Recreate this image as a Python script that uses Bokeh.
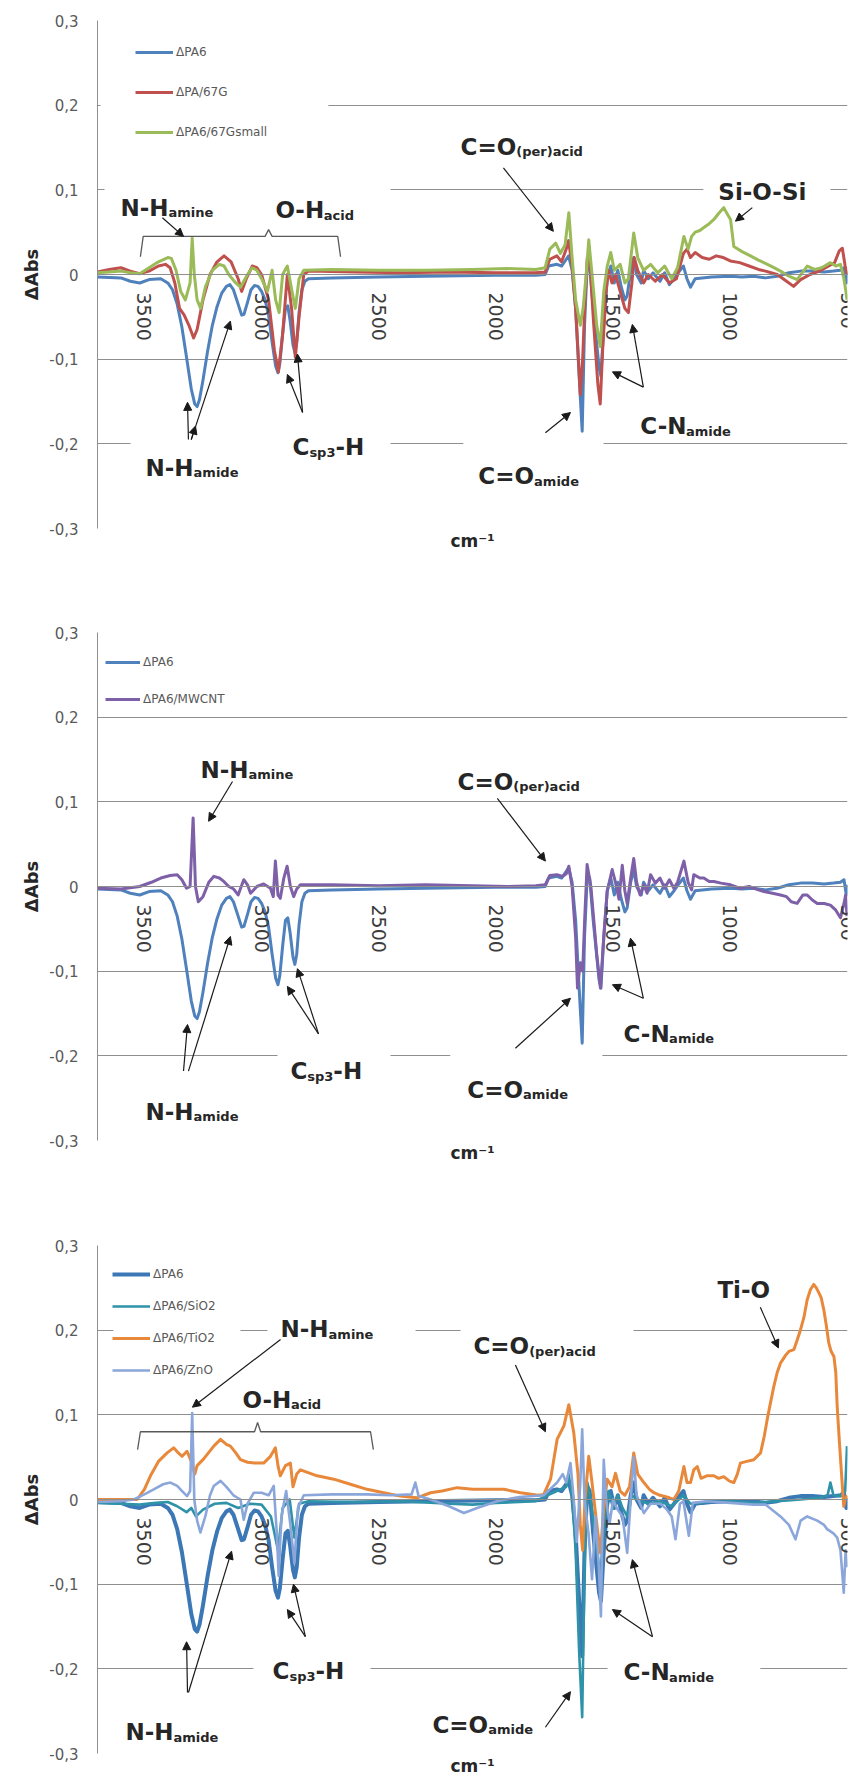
from math import pi

from bokeh.embed import file_html
from bokeh.layouts import column
from bokeh.models import (Arrow, BoxAnnotation, CustomJSTickFormatter, FixedTicker, Label,
                          Legend, LegendItem, LinearAxis, NormalHead, Range1d)
from bokeh.plotting import figure
from bokeh.resources import INLINE

# ---------------------------------------------------------------- data
X_TICKS = [3500, 3000, 2500, 2000, 1500, 1000, 500]
Y_TICKS = [-0.3, -0.2, -0.1, 0, 0.1, 0.2, 0.3]

# (wavenumber cm-1, delta absorbance)
PA6 = [
    (3700, -0.003), (3600, -0.004), (3560, -0.008), (3520, -0.010), (3480, -0.006),
    (3430, -0.005), (3400, -0.010), (3380, -0.018), (3360, -0.035), (3340, -0.062),
    (3320, -0.098), (3300, -0.135), (3285, -0.153), (3275, -0.156), (3265, -0.148),
    (3250, -0.125), (3230, -0.090), (3210, -0.060), (3190, -0.038), (3170, -0.022),
    (3150, -0.014), (3135, -0.012), (3120, -0.018), (3100, -0.035), (3085, -0.048),
    (3075, -0.047), (3060, -0.033), (3045, -0.018), (3030, -0.013), (3015, -0.014),
    (3000, -0.020), (2985, -0.030), (2970, -0.048), (2955, -0.080), (2940, -0.108),
    (2930, -0.116), (2922, -0.105), (2910, -0.070), (2898, -0.040), (2888, -0.037),
    (2878, -0.055), (2866, -0.083), (2858, -0.092), (2850, -0.080), (2840, -0.045),
    (2828, -0.018), (2815, -0.008), (2800, -0.005), (2700, -0.004), (2500, -0.003),
    (2300, -0.002), (2000, -0.001), (1830, -0.001), (1790, 0.000), (1775, 0.010),
    (1740, 0.012), (1720, 0.010), (1700, 0.018), (1690, 0.022), (1675, 0.005),
    (1660, -0.040), (1645, -0.120), (1632, -0.185), (1622, -0.060), (1610, 0.015),
    (1600, 0.010), (1585, -0.040), (1560, -0.110), (1552, -0.120), (1540, -0.060),
    (1525, -0.005), (1510, 0.010), (1495, -0.010), (1480, 0.005), (1465, -0.015),
    (1450, -0.030), (1440, -0.025), (1425, 0.005), (1412, 0.020), (1400, 0.000),
    (1380, -0.010), (1370, 0.005), (1350, -0.005), (1330, 0.002), (1300, -0.008),
    (1280, 0.002), (1260, -0.012), (1240, -0.005), (1220, 0.003), (1200, 0.010),
    (1185, -0.005), (1170, -0.015), (1150, -0.005), (1120, -0.004), (1080, -0.003),
    (1000, -0.002), (950, -0.003), (900, -0.002), (850, -0.004), (800, -0.002),
    (750, 0.002), (700, 0.004), (650, 0.004), (600, 0.003), (560, 0.004),
    (530, 0.005), (515, 0.008), (505, -0.010), (500, 0.002),
]

PA_67G = [
    (3700, 0.003), (3650, 0.006), (3600, 0.008), (3560, 0.004), (3520, 0.001),
    (3480, 0.004), (3440, 0.010), (3410, 0.012), (3390, 0.008), (3370, -0.010),
    (3350, -0.040), (3330, -0.048), (3310, -0.060), (3290, -0.075), (3275, -0.065),
    (3250, -0.030), (3220, 0.000), (3190, 0.015), (3160, 0.022), (3130, 0.015),
    (3100, -0.005), (3085, -0.020), (3065, -0.005), (3040, 0.010), (3020, 0.008),
    (3000, 0.000), (2970, -0.030), (2945, -0.090), (2928, -0.115), (2910, -0.070),
    (2890, 0.000), (2872, -0.040), (2856, -0.098), (2840, -0.050), (2820, 0.000),
    (2800, 0.004), (2600, 0.003), (2400, 0.002), (2200, 0.003), (2000, 0.002),
    (1830, 0.002), (1790, 0.003), (1770, 0.018), (1740, 0.022), (1720, 0.015),
    (1700, 0.030), (1690, 0.040), (1675, 0.010), (1660, -0.040), (1648, -0.100),
    (1640, -0.142), (1630, -0.100), (1620, -0.030), (1610, 0.020), (1600, 0.020),
    (1585, -0.050), (1565, -0.130), (1555, -0.153), (1545, -0.090), (1530, -0.020),
    (1520, 0.005), (1505, -0.010), (1490, 0.000), (1470, -0.020), (1450, -0.040),
    (1435, -0.045), (1420, -0.010), (1410, 0.020), (1395, 0.005), (1370, -0.010),
    (1350, 0.000), (1320, -0.008), (1290, 0.000), (1260, -0.010), (1230, -0.005),
    (1200, 0.025), (1185, 0.030), (1170, 0.020), (1150, 0.026), (1120, 0.020),
    (1090, 0.018), (1060, 0.022), (1030, 0.020), (1000, 0.016), (960, 0.014),
    (920, 0.010), (880, 0.006), (850, 0.004), (800, 0.000), (760, -0.008),
    (730, -0.014), (700, -0.006), (660, 0.000), (620, 0.004), (580, 0.010),
    (555, 0.014), (535, 0.028), (522, 0.031), (510, 0.010), (502, 0.000),
]

PA6_67G_SMALL = [
    (3700, 0.002), (3650, 0.003), (3600, 0.004), (3560, 0.002), (3520, 0.001),
    (3480, 0.008), (3440, 0.015), (3400, 0.020), (3385, 0.019), (3365, 0.005),
    (3345, -0.020), (3325, -0.030), (3305, -0.010), (3296, 0.043), (3287, 0.000),
    (3275, -0.030), (3260, -0.040), (3240, -0.015), (3210, 0.005), (3180, 0.012),
    (3160, 0.010), (3140, 0.000), (3110, -0.010), (3090, -0.015), (3060, 0.000),
    (3040, 0.008), (3020, 0.005), (3000, -0.005), (2975, -0.020), (2955, 0.005),
    (2940, -0.030), (2925, -0.045), (2910, 0.000), (2890, 0.010), (2870, -0.020),
    (2856, -0.040), (2840, -0.005), (2820, 0.005), (2700, 0.006), (2500, 0.005),
    (2300, 0.005), (2100, 0.006), (1950, 0.007), (1830, 0.006), (1790, 0.008),
    (1770, 0.030), (1745, 0.037), (1725, 0.025), (1705, 0.035), (1689, 0.073),
    (1675, 0.020), (1660, -0.030), (1640, -0.060), (1628, -0.040), (1615, 0.000),
    (1604, 0.041), (1590, 0.000), (1570, -0.060), (1555, -0.085), (1540, -0.020),
    (1525, 0.010), (1510, 0.026), (1495, 0.005), (1470, 0.012), (1450, -0.010),
    (1435, -0.005), (1412, 0.049), (1395, 0.020), (1370, 0.005), (1340, 0.012),
    (1310, 0.002), (1280, 0.010), (1250, -0.005), (1225, 0.008), (1198, 0.045),
    (1180, 0.030), (1165, 0.045), (1150, 0.050), (1130, 0.052), (1110, 0.056),
    (1090, 0.060), (1070, 0.065), (1050, 0.072), (1028, 0.079), (1010, 0.070),
    (999, 0.065), (985, 0.033), (950, 0.027), (914, 0.022), (880, 0.017),
    (857, 0.014), (820, 0.009), (786, 0.004), (750, -0.002), (715, -0.006),
    (690, 0.003), (672, 0.010), (640, 0.006), (610, 0.008), (573, 0.014),
    (550, 0.010), (530, 0.012), (516, -0.004), (508, -0.018), (502, -0.030),
]

PA6_MWCNT = [
    (3700, -0.002), (3600, -0.003), (3520, 0.000), (3470, 0.005), (3430, 0.010),
    (3390, 0.013), (3360, 0.014), (3340, 0.008), (3320, -0.002), (3305, 0.000),
    (3292, 0.081), (3282, 0.000), (3270, -0.018), (3250, -0.012), (3225, 0.005),
    (3204, 0.012), (3180, 0.010), (3161, 0.006), (3140, 0.000), (3119, -0.003),
    (3100, -0.010), (3076, 0.008), (3060, 0.002), (3047, -0.008), (3020, 0.000),
    (2991, 0.003), (2962, -0.002), (2950, -0.012), (2941, 0.030), (2930, -0.010),
    (2920, -0.014), (2905, 0.010), (2891, 0.024), (2877, 0.000), (2863, -0.012),
    (2850, -0.003), (2834, 0.002), (2700, 0.002), (2500, 0.001), (2300, 0.002),
    (2100, 0.001), (1950, 0.000), (1830, 0.001), (1790, 0.002), (1770, 0.013),
    (1740, 0.014), (1715, 0.012), (1700, 0.015), (1689, 0.024), (1675, 0.000),
    (1660, -0.060), (1652, -0.120), (1640, -0.090), (1630, -0.100), (1620, -0.030),
    (1611, 0.026), (1595, 0.000), (1570, -0.080), (1554, -0.120), (1540, -0.060),
    (1525, -0.005), (1504, 0.020), (1490, 0.005), (1475, -0.015), (1461, 0.025),
    (1450, -0.005), (1440, -0.020), (1425, 0.010), (1412, 0.033), (1400, 0.005),
    (1385, -0.010), (1369, 0.002), (1355, -0.008), (1340, 0.014), (1320, 0.004),
    (1300, 0.010), (1280, -0.002), (1260, 0.008), (1241, -0.002), (1225, 0.005),
    (1198, 0.030), (1180, 0.005), (1165, -0.004), (1156, 0.014), (1130, 0.010),
    (1113, 0.010), (1090, 0.006), (1070, 0.006), (1040, 0.004), (999, 0.002),
    (960, -0.002), (920, 0.000), (880, -0.004), (857, -0.006), (820, -0.008),
    (786, -0.010), (760, -0.012), (740, -0.018), (715, -0.020), (690, -0.010),
    (672, -0.010), (650, -0.016), (629, -0.020), (600, -0.020), (573, -0.022),
    (550, -0.028), (530, -0.037), (515, -0.020), (508, -0.010), (502, -0.035),
]

PA6_SIO2 = [
    (3700, -0.004), (3600, -0.005), (3520, -0.006), (3450, -0.004), (3400, -0.003),
    (3360, -0.008), (3320, -0.015), (3300, -0.010), (3280, -0.020), (3250, -0.012),
    (3200, -0.005), (3150, -0.004), (3100, -0.010), (3050, -0.005), (3000, -0.006),
    (2960, -0.020), (2930, -0.060), (2910, -0.010), (2880, 0.000), (2860, -0.045),
    (2840, -0.005), (2800, -0.002), (2600, -0.003), (2400, -0.002), (2200, -0.005),
    (2100, -0.006), (2000, -0.004), (1900, -0.003), (1830, -0.002), (1780, 0.005),
    (1740, 0.010), (1700, 0.015), (1690, 0.030), (1675, 0.005), (1660, -0.060),
    (1645, -0.180), (1632, -0.257), (1622, -0.080), (1610, 0.020), (1595, 0.000),
    (1570, -0.060), (1554, -0.090), (1540, -0.030), (1520, 0.010), (1500, -0.010),
    (1480, 0.005), (1460, -0.010), (1440, -0.020), (1420, 0.005), (1400, 0.000),
    (1350, -0.005), (1300, -0.002), (1250, -0.008), (1200, 0.005), (1170, -0.005),
    (1100, -0.003), (1000, -0.002), (900, -0.004), (800, -0.002), (700, 0.000),
    (620, 0.002), (585, 0.005), (573, 0.020), (560, 0.005), (530, 0.004),
    (510, 0.010), (502, 0.063),
]

PA6_TIO2 = [
    (3700, 0.000), (3600, 0.000), (3531, 0.000), (3500, 0.012), (3474, 0.028),
    (3440, 0.045), (3403, 0.055), (3375, 0.061), (3355, 0.055), (3339, 0.051),
    (3318, 0.057), (3300, 0.045), (3285, 0.030), (3275, 0.040), (3247, 0.048),
    (3204, 0.063), (3175, 0.071), (3150, 0.065), (3133, 0.063), (3110, 0.055),
    (3090, 0.047), (3060, 0.044), (3030, 0.043), (2991, 0.043), (2962, 0.051),
    (2941, 0.061), (2930, 0.040), (2920, 0.028), (2898, 0.040), (2877, 0.043),
    (2866, 0.015), (2850, 0.030), (2834, 0.035), (2763, 0.028), (2692, 0.024),
    (2621, 0.018), (2550, 0.012), (2479, 0.008), (2408, 0.004), (2337, 0.002),
    (2279, 0.008), (2230, 0.010), (2165, 0.014), (2100, 0.012), (2066, 0.012),
    (1966, 0.012), (1895, 0.008), (1820, 0.005), (1796, 0.006), (1767, 0.024),
    (1739, 0.071), (1710, 0.087), (1689, 0.112), (1668, 0.079), (1650, 0.030),
    (1640, -0.030), (1630, -0.060), (1620, 0.000), (1604, 0.051), (1590, 0.020),
    (1582, 0.000), (1565, -0.040), (1554, -0.063), (1540, -0.010), (1525, 0.024),
    (1505, 0.015), (1490, 0.031), (1470, 0.010), (1450, 0.005), (1430, 0.015),
    (1412, 0.055), (1395, 0.030), (1369, 0.020), (1345, 0.012), (1326, 0.008),
    (1300, 0.005), (1284, 0.004), (1260, 0.002), (1241, 0.000), (1220, 0.010),
    (1198, 0.039), (1185, 0.020), (1170, 0.020), (1156, 0.035), (1141, 0.039),
    (1125, 0.025), (1100, 0.028), (1070, 0.028), (1050, 0.025), (1028, 0.027),
    (1005, 0.022), (985, 0.020), (970, 0.030), (957, 0.043), (930, 0.045),
    (900, 0.047), (871, 0.055), (855, 0.075), (843, 0.094), (828, 0.115),
    (814, 0.134), (800, 0.150), (786, 0.161), (765, 0.170), (750, 0.175),
    (729, 0.177), (715, 0.188), (701, 0.200), (686, 0.215), (672, 0.236),
    (658, 0.248), (644, 0.254), (633, 0.250), (622, 0.244), (612, 0.238),
    (601, 0.224), (590, 0.205), (580, 0.185), (570, 0.175), (558, 0.169),
    (550, 0.150), (544, 0.110), (535, 0.070), (523, 0.020), (516, -0.008),
    (510, 0.000), (502, 0.005),
]

PA6_ZNO = [
    (3700, -0.003), (3600, -0.002), (3545, 0.000), (3500, 0.006), (3460, 0.012),
    (3420, 0.018), (3389, 0.020), (3360, 0.016), (3339, 0.010), (3318, 0.004),
    (3305, 0.010), (3296, 0.102), (3287, 0.000), (3275, -0.025), (3261, -0.039),
    (3240, -0.020), (3220, 0.005), (3204, 0.016), (3175, 0.022), (3150, 0.015),
    (3120, 0.005), (3090, 0.000), (3076, -0.024), (3060, -0.005), (3033, 0.008),
    (3000, 0.008), (2970, 0.005), (2948, 0.016), (2935, -0.040), (2927, -0.090),
    (2915, -0.020), (2895, 0.010), (2877, -0.030), (2860, -0.075), (2845, -0.010),
    (2820, 0.005), (2700, 0.006), (2550, 0.006), (2450, 0.005), (2360, 0.006),
    (2344, 0.020), (2330, 0.004), (2279, 0.000), (2200, -0.008), (2137, -0.016),
    (2080, -0.010), (1995, -0.002), (1900, 0.003), (1796, 0.005), (1770, 0.012),
    (1739, 0.020), (1715, 0.030), (1700, 0.020), (1682, 0.043), (1668, 0.000),
    (1655, -0.050), (1640, 0.020), (1632, 0.083), (1622, 0.000), (1605, -0.040),
    (1590, -0.094), (1575, -0.020), (1561, -0.080), (1552, -0.138), (1545, -0.020),
    (1540, 0.047), (1530, 0.000), (1515, -0.028), (1500, 0.000), (1485, -0.010),
    (1460, -0.020), (1440, -0.063), (1425, 0.000), (1412, 0.050), (1400, 0.005),
    (1369, -0.016), (1340, -0.005), (1298, -0.005), (1270, -0.012), (1250, -0.020),
    (1234, -0.047), (1215, -0.005), (1200, -0.002), (1177, -0.043), (1160, -0.004),
    (1100, -0.002), (1000, -0.004), (900, -0.006), (850, -0.006), (786, -0.020),
    (750, -0.030), (722, -0.047), (700, -0.025), (672, -0.020), (629, -0.025),
    (600, -0.030), (587, -0.035), (560, -0.040), (544, -0.045), (530, -0.060),
    (516, -0.110), (508, -0.060), (502, -0.080),
]

# ---------------------------------------------------------------- styling
GRID = "#8f8f8f"
TEXT = "#262626"
TICK_TEXT = "#3c3c3c"
ANN_FONT = "DejaVu Sans"
MAIN_PX, SUB_PX = 23, 13

# advance widths (em) of DejaVu Sans Bold, used to chain subscripts after main text
GLYPH_EM = {"N": 0.837, "H": 0.837, "-": 0.415, "O": 0.850, "C": 0.734, "=": 0.838,
            "S": 0.720, "i": 0.343, "T": 0.682, "(": 0.457, ")": 0.457, "p": 0.716,
            "e": 0.678, "r": 0.493, "a": 0.675, "c": 0.593, "d": 0.716, "m": 1.042,
            "n": 0.712, "s": 0.595, "3": 0.696}


def text_px(s, px):
    return sum(GLYPH_EM.get(ch, 0.65) for ch in s) * px


def make_panel(bottom):
    p = figure(frame_width=750, frame_height=508,
               min_border_left=97, min_border_right=14, min_border_top=20,
               min_border_bottom=bottom,
               x_range=Range1d(3700, 500), y_range=Range1d(-0.3, 0.3),
               output_backend="svg", toolbar_location=None, tools="")
    p.outline_line_color = None
    p.background_fill_color = "white"
    p.border_fill_color = "white"

    # wavenumber axis crosses the plot at zero absorbance
    xa = p.xaxis[0]
    xa.fixed_location = 0
    xa.ticker = FixedTicker(ticks=X_TICKS)
    xa.major_label_orientation = -pi / 2
    xa.major_label_text_font = "DejaVu Sans"
    xa.major_label_text_font_size = "19px"
    xa.major_label_text_color = TICK_TEXT
    xa.major_label_standoff = 18
    xa.major_tick_out = 0
    xa.major_tick_in = 0
    xa.minor_tick_out = 0
    xa.minor_tick_in = 0
    xa.axis_line_color = GRID

    ya = p.yaxis[0]
    ya.ticker = FixedTicker(ticks=Y_TICKS)
    ya.formatter = CustomJSTickFormatter(
        code="return Math.abs(tick) < 1e-9 ? '0' : tick.toFixed(1).replace('.', ',');")
    ya.major_label_text_font = "DejaVu Sans"
    ya.major_label_text_font_size = "15px"
    ya.major_label_text_color = "#5a5a5a"
    ya.major_label_standoff = 19
    ya.major_tick_out = 0
    ya.major_tick_in = 0
    ya.minor_tick_out = 0
    ya.minor_tick_in = 0
    ya.axis_line_color = GRID
    ya.axis_label = "ΔAbs"
    ya.axis_label_text_font = "DejaVu Sans"
    ya.axis_label_text_font_style = "bold"
    ya.axis_label_text_font_size = "18px"
    ya.axis_label_text_color = TEXT
    ya.axis_label_standoff = 4

    p.xgrid.visible = False
    p.ygrid.ticker = FixedTicker(ticks=Y_TICKS)
    p.ygrid.grid_line_color = GRID
    p.ygrid.grid_line_width = 1

    unit_axis = LinearAxis(ticker=FixedTicker(ticks=[]), axis_label="cm⁻¹",
                           axis_line_color=None, major_tick_line_color=None,
                           minor_tick_line_color=None, major_tick_out=0, minor_tick_out=0,
                           major_label_standoff=0, axis_label_standoff=2,
                           axis_label_text_font="DejaVu Sans",
                           axis_label_text_font_style="bold",
                           axis_label_text_font_size="17px",
                           axis_label_text_color=TEXT)
    p.add_layout(unit_axis, "below")
    return p


def add_series(p, points, color, width):
    xs = [w for w, _ in points]
    ys = [a for _, a in points]
    return p.line(xs, ys, line_color=color, line_width=width, line_join="round")


def add_legend(p, entries, loc, glyph_width, spacing):
    items = [LegendItem(label=name, renderers=[r]) for name, r in entries]
    leg = Legend(items=items, location=loc, padding=5, spacing=spacing,
                 glyph_width=glyph_width, glyph_height=20, label_height=20,
                 label_standoff=3, label_text_font="DejaVu Sans",
                 label_text_font_size="12px", label_text_color="#595959",
                 background_fill_alpha=0, border_line_color=None)
    p.add_layout(leg)


def add_tag(p, x, y, parts):
    dx = 0.0
    for txt, sub in parts:
        px = SUB_PX if sub else MAIN_PX
        p.add_layout(Label(x=x, y=y, x_offset=dx, y_offset=-5 if sub else 0, text=txt,
                           text_font=ANN_FONT, text_font_size=f"{px}px",
                           text_font_style="bold", text_color=TEXT,
                           text_baseline="alphabetic", text_align="left"))
        dx += text_px(txt, px)


def add_arrow(p, x0, y0, x1, y1):
    p.add_layout(Arrow(x_start=x0, y_start=y0, x_end=x1, y_end=y1,
                       line_color="#1a1a1a", line_width=1.2,
                       end=NormalHead(size=8, fill_color="#1a1a1a", line_color="#1a1a1a")))


def add_blank(p, left, right, top, bottom):
    # white text box behind a tag, hiding the gridline it crosses
    p.add_layout(BoxAnnotation(left=left, right=right, top=top, bottom=bottom,
                               fill_color="white", fill_alpha=1.0, line_alpha=0,
                               level="underlay"))


def add_brace(p, pts):
    p.line([a for a, _ in pts], [b for _, b in pts], line_color="#595959", line_width=1.3)


# ---------------------------------------------------------------- panel 1
p1 = make_panel(84)
for box in [(3687, 2715, 0.289, 0.159), (3670, 2450, 0.112, 0.063),
            (1115, 573, 0.130, 0.089), (3559, 2450, -0.183, -0.242),
            (2139, 1541, -0.192, -0.254)]:
    add_blank(p1, *box)
r_a = add_series(p1, PA6, "#4F81BD", 3)
r_b = add_series(p1, PA_67G, "#C0504D", 3)
r_c = add_series(p1, PA6_67G_SMALL, "#9BBB59", 3)
add_legend(p1, [("ΔPA6", r_a), ("ΔPA/67G", r_b), ("ΔPA6/67Gsmall", r_c)],
           (38, 386), 38, 20)
add_brace(p1, [(3517, 0.021), (3505, 0.045), (2985, 0.045), (2970, 0.053),
               (2955, 0.045), (2675, 0.045), (2663, 0.021)])
add_tag(p1, 3602, 0.079, [("N-H", False), ("amine", True)])
add_tag(p1, 2941, 0.076, [("O-H", False), ("acid", True)])
add_tag(p1, 2151, 0.151, [("C=O", False), ("(per)acid", True)])
add_tag(p1, 1051, 0.098, [("Si-O-Si", False)])
add_tag(p1, 3495, -0.228, [("N-H", False), ("amide", True)])
add_tag(p1, 2868, -0.204, [("C", False), ("sp3", True), ("-H", False)])
add_tag(p1, 2075, -0.238, [("C=O", False), ("amide", True)])
add_tag(p1, 1384, -0.179, [("C-N", False), ("amide", True)])
for a in [(3423, 0.067, 3333, 0.045), (1968, 0.126, 1755, 0.051),
          (906, 0.079, 978, 0.063),
          (3312, -0.195, 3316, -0.151), (3300, -0.195, 3282, -0.179),
          (3300, -0.195, 3133, -0.055),
          (2825, -0.163, 2890, -0.118), (2825, -0.163, 2847, -0.094),
          (1789, -0.187, 1682, -0.163),
          (1371, -0.133, 1418, -0.059), (1371, -0.133, 1503, -0.115)]:
    add_arrow(p1, *a)

# ---------------------------------------------------------------- panel 2
p2 = make_panel(85)
for box in [(2932, 2450, -0.183, -0.230), (2195, 1546, -0.190, -0.254)]:
    add_blank(p2, *box)
r_a = add_series(p2, PA6, "#4F81BD", 3)
r_b = add_series(p2, PA6_MWCNT, "#7D60A8", 3)
add_legend(p2, [("ΔPA6", r_a), ("ΔPA6/MWCNT", r_b)], (8, 431), 35, 17)
add_tag(p2, 3261, 0.138, [("N-H", False), ("amine", True)])
add_tag(p2, 2164, 0.124, [("C=O", False), ("(per)acid", True)])
add_tag(p2, 3495, -0.266, [("N-H", False), ("amide", True)])
add_tag(p2, 2877, -0.218, [("C", False), ("sp3", True), ("-H", False)])
add_tag(p2, 2122, -0.240, [("C=O", False), ("amide", True)])
add_tag(p2, 1456, -0.174, [("C-N", False), ("amide", True)])
for a in [(3124, 0.124, 3226, 0.077), (1994, 0.104, 1789, 0.030),
          (3333, -0.218, 3316, -0.163), (3312, -0.218, 3133, -0.059),
          (2757, -0.174, 2890, -0.118), (2757, -0.174, 2847, -0.097),
          (1917, -0.191, 1682, -0.132),
          (1371, -0.132, 1426, -0.061), (1371, -0.132, 1503, -0.116)]:
    add_arrow(p2, *a)

# ---------------------------------------------------------------- panel 3
p3 = make_panel(32)
for box in [(3632, 3090, 0.289, 0.142), (2975, 2343, 0.218, 0.183),
            (2151, 1413, 0.218, 0.165), (3035, 2535, -0.171, -0.224),
            (1524, 872, -0.177, -0.224)]:
    add_blank(p3, *box)
r_a = add_series(p3, PA6, "#3B78B5", 4)
r_b = add_series(p3, PA6_SIO2, "#2E93A8", 2.6)
r_c = add_series(p3, PA6_TIO2, "#E8883A", 3)
r_d = add_series(p3, PA6_ZNO, "#8BA6DA", 2.6)
add_legend(p3, [("ΔPA6", r_a), ("ΔPA6/SiO2", r_b), ("ΔPA6/TiO2", r_c), ("ΔPA6/ZnO", r_d)],
           (15, 373), 38, 12)
add_brace(p3, [(3529, 0.059), (3517, 0.080), (3030, 0.080), (3017, 0.091),
               (3004, 0.080), (2535, 0.080), (2523, 0.059)])
add_tag(p3, 2919, 0.201, [("N-H", False), ("amine", True)])
add_tag(p3, 3081, 0.118, [("O-H", False), ("acid", True)])
add_tag(p3, 2096, 0.181, [("C=O", False), ("(per)acid", True)])
add_tag(p3, 1055, 0.248, [("Ti-O", False)])
add_tag(p3, 3581, -0.275, [("N-H", False), ("amide", True)])
add_tag(p3, 2953, -0.203, [("C", False), ("sp3", True), ("-H", False)])
add_tag(p3, 2271, -0.266, [("C=O", False), ("amide", True)])
add_tag(p3, 1456, -0.204, [("C-N", False), ("amide", True)])
for a in [(2919, 0.189, 3295, 0.109), (1917, 0.159, 1789, 0.080),
          (872, 0.227, 795, 0.179),
          (3316, -0.228, 3320, -0.168), (3312, -0.228, 3128, -0.061),
          (2813, -0.162, 2890, -0.130), (2813, -0.162, 2864, -0.100),
          (1789, -0.269, 1682, -0.227),
          (1332, -0.162, 1418, -0.071), (1332, -0.162, 1503, -0.130)]:
    add_arrow(p3, *a)

layout = column(p1, p2, p3, spacing=0)
open("out.html", "w").write(file_html(layout, INLINE))
